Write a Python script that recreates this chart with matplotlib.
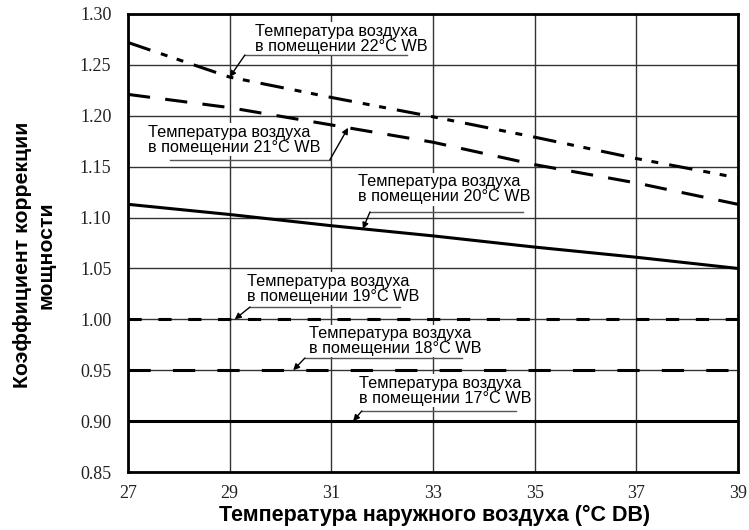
import matplotlib
matplotlib.use("Agg")
import matplotlib.pyplot as plt
import numpy as np

plt.rcParams['lines.scale_dashes'] = False

# ---- data ----
outdoor_db = [27, 29, 31, 33, 35, 37, 39]
wb22 = [1.272, 1.238, 1.218, 1.199, 1.179, 1.158, 1.139]
wb21 = [1.221, 1.208, 1.191, 1.174, 1.152, 1.134, 1.113]
wb20 = [1.113, 1.103, 1.092, 1.082, 1.071, 1.061, 1.050]
wb19 = [1.00, 1.00, 1.00, 1.00, 1.00, 1.00, 1.00]
wb18 = [0.95, 0.95, 0.95, 0.95, 0.95, 0.95, 0.95]
wb17 = [0.90, 0.90, 0.90, 0.90, 0.90, 0.90, 0.90]

series_labels = ["Температура воздуха\nв помещении 22°C WB",
                 "Температура воздуха\nв помещении 21°C WB",
                 "Температура воздуха\nв помещении 20°C WB",
                 "Температура воздуха\nв помещении 19°C WB",
                 "Температура воздуха\nв помещении 18°C WB",
                 "Температура воздуха\nв помещении 17°C WB"]

x_ticks = [27, 29, 31, 33, 35, 37, 39]
y_ticks = [0.85, 0.90, 0.95, 1.00, 1.05, 1.10, 1.15, 1.20, 1.25, 1.30]
x_title = "Температура наружного воздуха (°C DB)"
y_title = "Коэффициент коррекции\nмощности"

# ---- styles / layout ----
series = [wb22, wb21, wb20, wb19, wb18, wb17]
styles = [(0, (17, 8, 5, 7, 5, 8)), (0, (16, 11)), '-', (0, (9.5, 12)), (0, (16, 16)), '-']
# annotation layout: text left x, text center y, underline y, underline x0, x1, leader start x, tip x
ann_layout = [
    (29.50, 1.2757, 1.2597, 29.30, 32.49, 29.30, 29.00),
    (27.39, 1.1763, 1.1566, 27.83, 30.97, 30.97, 31.33),
    (31.52, 1.1280, 1.1055, 31.76, 34.77, 31.76, 31.62),
    (29.34, 1.0302, 1.0121, 29.40, 32.35, 29.40, 29.10),
    (30.56, 0.9787, 0.9620, 30.48, 33.57, 30.48, 30.25),
    (31.54, 0.9300, 0.9100, 31.60, 34.63, 31.60, 31.43),
]

fig = plt.figure(figsize=(7.49, 5.30), dpi=100)
ax = fig.add_axes([0.1709, 0.1094, 0.8144, 0.8642])

for ys, ls in zip(series, styles):
    ax.plot(outdoor_db, ys, color='black', lw=2.2, linestyle=ls, zorder=4,
            solid_capstyle='butt', dash_capstyle='butt')

ax.set_xlim(27, 39)
ax.set_ylim(0.85, 1.30)
ax.set_xticks(x_ticks)
ax.set_xticklabels([str(t) for t in x_ticks])
ax.set_yticks(y_ticks)
ax.set_yticklabels([f"{t:.2f}" for t in y_ticks])
ax.grid(True, color='#333333', lw=1.0, zorder=1)
ax.set_axisbelow(True)
for s in ax.spines.values():
    s.set_linewidth(2.0)
    s.set_color('black')
    s.set_zorder(6)
ax.tick_params(length=0, labelsize=13, pad=12)
ax.tick_params(axis='x', pad=9)
for lab in ax.get_xticklabels() + ax.get_yticklabels():
    lab.set_fontfamily('Liberation Serif')
    lab.set_color('#222222')

for ys, lbl, lay in zip(series, series_labels, ann_layout):
    tx, ty, uy, ux0, ux1, lx, tipx = lay
    tipy = float(np.interp(tipx, outdoor_db, ys))
    ax.text(tx, ty, lbl, ha='left', va='center', fontsize=11.7,
            family='Liberation Sans', linespacing=1.0, zorder=3,
            bbox=dict(facecolor='white', edgecolor='none', pad=1.0))
    ax.plot([ux0, ux1], [uy, uy], color='#555555', lw=1.0, zorder=3.5)
    ax.annotate('', xy=(tipx, tipy), xytext=(lx, uy),
                arrowprops=dict(arrowstyle='-|>', color='black', lw=1.0,
                                mutation_scale=9, shrinkA=0, shrinkB=0),
                zorder=5)

fig.text(435 / 749, 1 - 515 / 530, x_title, ha='center', va='center',
         fontsize=15.5, fontweight='bold', family='Liberation Sans')
fig.text(34 / 749, 1 - 255 / 530, y_title, ha='center', va='center',
         rotation=90, fontsize=15.3, fontweight='bold', family='Liberation Sans',
         multialignment='center', linespacing=1.3)

fig.savefig('out.png', dpi=100)
